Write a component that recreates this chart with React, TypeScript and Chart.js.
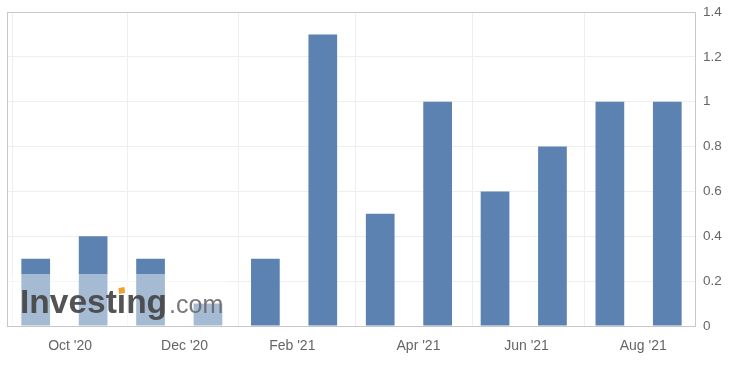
import React, { useEffect, useRef } from "react";
import { Chart, registerables } from "chart.js";

Chart.register(...registerables);

// Release dates of each monthly figure (UTC y, m(1-12), d)
const RELEASE_DATES: [number, number, number][] = [
  [2020, 9, 13], [2020, 10, 13], [2020, 11, 12], [2020, 12, 14],
  [2021, 1, 17], [2021, 2, 18], [2021, 3, 16], [2021, 4, 9],
  [2021, 5, 15], [2021, 6, 15], [2021, 7, 14], [2021, 8, 14],
];
const VALUES = [0.3, 0.4, 0.3, 0.1, 0.3, 1.3, 0.5, 1.0, 0.6, 0.8, 1.0, 1.0];

// Axis tick dates and labels
const TICK_DATES: [number, number, number][] = [
  [2020, 10, 1], [2020, 12, 1], [2021, 2, 1], [2021, 4, 1], [2021, 6, 1], [2021, 8, 1],
];
const TICK_LABELS = ["Oct '20", "Dec '20", "Feb '21", "Apr '21", "Jun '21", "Aug '21"];

const Y_MIN = 0;
const Y_MAX = 1.4;
const Y_STEP = 0.2;

const toMs = (d: [number, number, number]) => Date.UTC(d[0], d[1] - 1, d[2]);

// ordinal axis: points evenly spaced, ticks interpolated between points
function ordinalPos(t: number, pts: number[]): number {
  for (let i = 0; i < pts.length - 1; i++) {
    if (t >= pts[i] && t <= pts[i + 1]) {
      return i + (t - pts[i]) / (pts[i + 1] - pts[i]);
    }
  }
  return t < pts[0] ? 0 : pts.length - 1;
}

const BAR_COLOR = "#5b82b0";
const LABEL_COLOR = "#666666";
const GRID_COLOR = "#eeeeee";
const FRAME_COLOR = "#c8c8c8";
const FONT = "'Liberation Sans', Arial, sans-serif";

export default function App() {
  const ref = useRef<HTMLCanvasElement | null>(null);

  useEffect(() => {
    document.body.style.margin = "0";
    const canvas = ref.current;
    if (!canvas) return;

    const pts = RELEASE_DATES.map(toMs);
    const tickVals = TICK_DATES.map((d) => ordinalPos(toMs(d), pts));

    const framePlugin = {
      id: "frameAndWatermark",
      afterDatasetsDraw(chart: any) {
        const { ctx, chartArea } = chart;
        const { left, top, right, bottom } = chartArea;
        ctx.save();
        // watermark overlay
        ctx.fillStyle = "rgba(255,255,255,0.45)";
        ctx.fillRect(left + 1, 274, 228 - left, bottom - 274);
        const base = 313;
        ctx.textBaseline = "alphabetic";
        ctx.textAlign = "left";
        ctx.font = `bold 33.5px ${FONT}`;
        ctx.fillStyle = "rgba(68,68,68,0.92)";
        const word = "Investing";
        ctx.fillText(word, 20, base);
        const wInvest = ctx.measureText("Invest").width;
        const wI = ctx.measureText("i").width;
        const wWord = ctx.measureText(word).width;
        // orange tittle
        ctx.fillStyle = "#f0a030";
        const cx = 20 + wInvest + wI / 2;
        ctx.beginPath();
        ctx.moveTo(cx - 2.5, base - 19);
        ctx.lineTo(cx + 3.5, base - 20);
        ctx.lineTo(cx + 3, base - 26);
        ctx.lineTo(cx - 3, base - 25);
        ctx.closePath();
        ctx.fill();
        ctx.font = `25px ${FONT}`;
        ctx.fillStyle = "rgba(105,105,105,0.9)";
        ctx.fillText(".com", 20 + wWord + 2, base);
        // frame
        ctx.strokeStyle = FRAME_COLOR;
        ctx.lineWidth = 1;
        ctx.strokeRect(Math.round(left) + 0.5, Math.round(top) + 0.5, Math.round(right - left) - 1, Math.round(bottom - top));
        ctx.restore();
      },
    };

    const chart = new Chart(canvas, {
      type: "bar",
      data: {
        datasets: [
          {
            data: VALUES.map((v, i) => ({ x: i, y: v })),
            backgroundColor: BAR_COLOR,
            borderWidth: 0,
            barPercentage: 0.5,
            categoryPercentage: 1.0,
          },
        ],
      },
      options: {
        responsive: false,
        animation: false,
        layout: { padding: { left: 7, top: 12, right: 0, bottom: 0 } },
        plugins: {
          legend: { display: false },
          tooltip: { enabled: false },
        },
        scales: {
          x: {
            type: "linear",
            min: -0.5,
            max: VALUES.length - 0.5,
            offset: false,
            afterBuildTicks: (scale: any) => {
              scale.ticks = tickVals.map((v) => ({ value: v }));
            },
            afterFit: (scale: any) => {
              scale.height = 41;
              scale.paddingLeft = 0;
              scale.paddingRight = 0;
            },
            grid: { color: GRID_COLOR, drawTicks: false },
            border: { display: false },
            ticks: {
              autoSkip: false,
              maxRotation: 0,
              padding: 12,
              color: LABEL_COLOR,
              font: { family: FONT, size: 14 },
              callback: (_v: any, i: number) => TICK_LABELS[i],
            },
          },
          y: {
            position: "right",
            min: Y_MIN,
            max: Y_MAX,
            afterFit: (scale: any) => {
              scale.width = 47;
              scale.paddingTop = 0;
              scale.paddingBottom = 0;
            },
            grid: { color: GRID_COLOR, drawTicks: false },
            border: { display: false },
            ticks: {
              stepSize: Y_STEP,
              padding: 7,
              color: LABEL_COLOR,
              font: { family: FONT, size: 13.5 },
              callback: (v: any) => String(Number(Number(v).toFixed(1))),
            },
          },
        },
      },
      plugins: [framePlugin],
    });

    return () => chart.destroy();
  }, []);

  return (
    <div style={{ width: 743, height: 367, background: "#fff" }}>
      <canvas ref={ref} width={743} height={367} />
    </div>
  );
}
